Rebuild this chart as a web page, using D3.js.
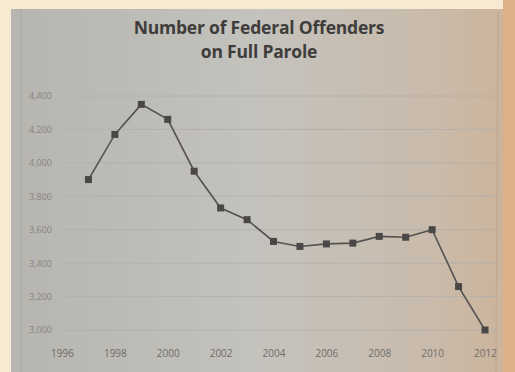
<!DOCTYPE html>
<html><head><meta charset="utf-8">
<script src="https://cdn.jsdelivr.net/npm/d3@7"></script>
<style>html,body{margin:0;padding:0;background:#f6ebd2;}svg{display:block;}</style>
</head><body>
<script>
const years = [1997,1998,1999,2000,2001,2002,2003,2004,2005,2006,2007,2008,2009,2010,2011,2012];
const offenders = [3900,4170,4350,4260,3950,3730,3660,3530,3500,3515,3520,3560,3555,3600,3260,3000];
const yTicks = [3000,3200,3400,3600,3800,4000,4200,4400];
const xTicks = [1996,1998,2000,2002,2004,2006,2008,2010,2012];
const titleLines = ["Number of Federal Offenders","on Full Parole"];

const W=515,H=372;
const svg=d3.select("body").append("svg").attr("width",W).attr("height",H);
const defs=svg.append("defs");
const g1=defs.append("linearGradient").attr("id","page").attr("x1","0").attr("x2","1").attr("y1","0").attr("y2","0");
g1.append("stop").attr("offset","0").attr("stop-color","#b6b5b0");
g1.append("stop").attr("offset","0.5").attr("stop-color","#c4c2bd");
g1.append("stop").attr("offset","0.85").attr("stop-color","#c9bbab");
g1.append("stop").attr("offset","1").attr("stop-color","#ccb49c");
svg.append("rect").attr("x",0).attr("y",0).attr("width",W).attr("height",H).attr("fill","#f6ebd2");
svg.append("rect").attr("x",503).attr("y",0).attr("width",12).attr("height",H).attr("fill","#dcb189");
svg.append("rect").attr("x",11).attr("y",9).attr("width",492).attr("height",H-9).attr("fill","url(#page)");
// faint chart frame
svg.append("line").attr("x1",21).attr("x2",21).attr("y1",9).attr("y2",H).attr("stroke","#a9a8a3").attr("stroke-width",1.5).attr("opacity",0.6);
svg.append("line").attr("x1",498).attr("x2",496).attr("y1",12).attr("y2",H).attr("stroke","#b9a38d").attr("stroke-width",1).attr("opacity",0.7);

const x=d3.scaleLinear().domain([1996,2012]).range([62,485]);
const y=d3.scaleLinear().domain([3000,4400]).range([330,96]);

// gridlines
svg.append("g").selectAll("line").data(yTicks).join("line")
  .attr("x1",60).attr("x2",497).attr("y1",d=>y(d)).attr("y2",d=>y(d))
  .attr("stroke","#b2b0ab").attr("stroke-width",1).attr("opacity",0.8);

// y axis labels
const yAxis=d3.axisLeft(y).tickValues(yTicks).tickSize(0).tickPadding(0).tickFormat(d3.format(","));
const ya=svg.append("g").attr("transform","translate(52,0)").call(yAxis);
ya.select(".domain").remove();
ya.selectAll("text").attr("font-family","Open Sans, sans-serif").attr("font-size",9).attr("fill","#86847f");

// x axis labels
const xAxis=d3.axisBottom(x).tickValues(xTicks).tickSize(0).tickPadding(0).tickFormat(d3.format("d"));
const xa=svg.append("g").attr("transform","translate(0,350)").call(xAxis);
xa.select(".domain").remove();
xa.selectAll("text").attr("font-family","Open Sans, sans-serif").attr("font-size",10).attr("fill","#6f6c68");

// title
svg.append("g").selectAll("text").data(titleLines).join("text")
  .attr("x",259).attr("y",(d,i)=>34+i*24).attr("text-anchor","middle")
  .attr("font-family","Open Sans, sans-serif").attr("font-weight","bold").attr("font-size",17.5)
  .attr("letter-spacing",-0.2)
  .attr("fill","#3e3d3b").text(d=>d);

const data=years.map((yr,i)=>({yr,v:offenders[i]}));
svg.append("path").datum(data)
  .attr("d",d3.line().x(d=>x(d.yr)).y(d=>y(d.v)))
  .attr("fill","none").attr("stroke","#555350").attr("stroke-width",1.6);
svg.append("g").selectAll("rect").data(data).join("rect")
  .attr("x",d=>x(d.yr)-3.5).attr("y",d=>y(d.v)-3.5).attr("width",7).attr("height",7)
  .attr("fill","#4a4846");
</script>
</body></html>
